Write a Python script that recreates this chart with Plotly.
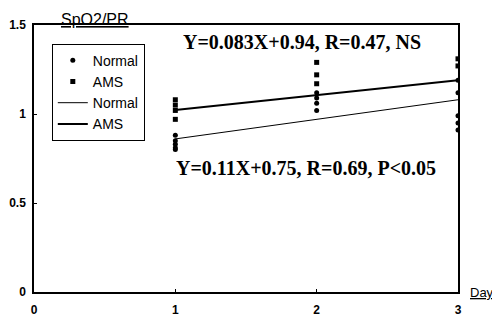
import plotly.graph_objects as go

# Data
days = [1, 2, 3]
normal_x = [1, 1, 1, 1, 1, 2, 2, 2, 2, 3, 3, 3, 3, 3]
normal_y = [0.88, 0.85, 0.83, 0.81, 0.80, 1.12, 1.09, 1.06, 1.02, 1.19, 1.12, 0.99, 0.95, 0.91]
ams_x = [1, 1, 1, 1, 2, 2, 2, 3, 3]
ams_y = [1.08, 1.05, 1.02, 0.97, 1.29, 1.22, 1.17, 1.31, 1.27]
normal_fit = [0.86, 0.97, 1.08]
ams_fit = [1.023, 1.106, 1.189]

x_ticks = [0, 1, 2, 3]
y_ticks = [0, 0.5, 1, 1.5]
y_tick_labels = ["0", "0.5", "1", "1.5"]

eq_ams = "Y=0.083X+0.94, R=0.47, NS"
eq_normal = "Y=0.11X+0.75, R=0.69, P<0.05"

fig = go.Figure()
fig.add_trace(go.Scatter(x=normal_x, y=normal_y, mode="markers", name="Normal",
                         marker=dict(symbol="circle", size=5, color="black")))
fig.add_trace(go.Scatter(x=ams_x, y=ams_y, mode="markers", name="AMS",
                         marker=dict(symbol="square", size=5, color="black")))
fig.add_trace(go.Scatter(x=days, y=normal_fit, mode="lines", name="Normal",
                         line=dict(color="black", width=1)))
fig.add_trace(go.Scatter(x=days, y=ams_fit, mode="lines", name="AMS",
                         line=dict(color="black", width=2)))

tickfont = dict(family="Liberation Sans", size=12, color="black", weight="bold")

fig.update_layout(
    width=492, height=312,
    margin=dict(l=26, r=42, t=17, b=28),
    plot_bgcolor="white", paper_bgcolor="white",
    font=dict(family="Liberation Sans", size=12, color="black"),
    showlegend=True,
    legend=dict(x=0.042, y=0.93, xanchor="left", yanchor="top",
                bordercolor="black", borderwidth=1, bgcolor="white",
                font=dict(family="Liberation Sans", size=14, color="black"),
                itemwidth=30, tracegroupgap=0),
    xaxis=dict(range=[0, 3], tickvals=x_ticks, showgrid=False, zeroline=False,
               showline=True, linecolor="black", linewidth=1.5, mirror=True,
               ticks="inside", ticklen=3, tickcolor="black", tickfont=tickfont,
               automargin=False, ticklabelstandoff=6),
    yaxis=dict(range=[0, 1.5], tickvals=y_ticks, ticktext=y_tick_labels,
               showgrid=False, zeroline=False,
               showline=True, linecolor="black", linewidth=1.5, mirror=True,
               ticks="inside", ticklen=3, tickcolor="black", tickfont=tickfont,
               automargin=False, ticklabelstandoff=4),
    annotations=[
        dict(text="<b>" + eq_ams + "</b>", xref="paper", yref="paper", x=0.632, y=0.936,
             xanchor="center", yanchor="middle",
             showarrow=False, font=dict(family="Liberation Serif", size=20, color="black")),
        dict(text="<b>" + eq_normal + "</b>", xref="paper", yref="paper", x=0.641, y=0.464,
             xanchor="center", yanchor="middle",
             showarrow=False, font=dict(family="Liberation Serif", size=20, color="black")),
        dict(text="<u>SpO2/PR</u>", xref="paper", yref="paper", x=0.0, y=1.0,
             xanchor="left", yanchor="bottom", xshift=25, yshift=-5, showarrow=False,
             font=dict(family="Liberation Sans", size=16, color="black")),
        dict(text="<u>Day</u>", xref="paper", yref="paper", x=1.024, y=0.0,
             xanchor="left", yanchor="middle", showarrow=False,
             font=dict(family="Liberation Sans", size=13, color="black")),
    ],
)

fig.write_html("out.html")
